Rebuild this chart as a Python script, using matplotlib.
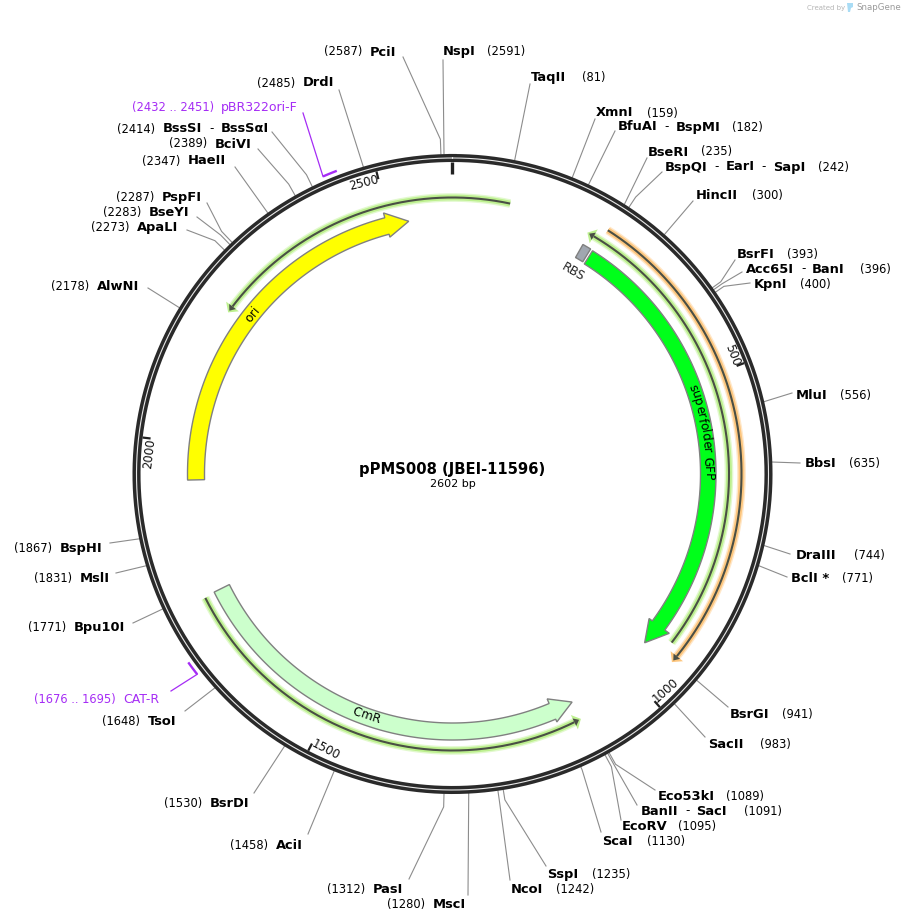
import numpy as np
import matplotlib
matplotlib.use("Agg")
import matplotlib.pyplot as plt
from matplotlib.patches import Polygon
from matplotlib.font_manager import FontProperties, findfont, get_font
from matplotlib.ft2font import LoadFlags

plt.rcParams['font.family'] = ['DejaVu Sans']

TOTAL_BP = 2602
TITLE = "pPMS008 (JBEI-11596)"
SUBTITLE = "2602 bp"

# restriction sites, clockwise from the origin
SITE_NAMES = ["TaqII", "XmnI", "BfuAI - BspMI", "BseRI", "BspQI - EarI - SapI", "HincII",
              "BsrFI", "Acc65I - BanI", "KpnI", "MluI", "BbsI", "DraIII", "BclI *",
              "BsrGI", "SacII", "Eco53kI", "BanII - SacI", "EcoRV", "ScaI", "SspI",
              "NcoI", "MscI", "PasI", "AciI", "BsrDI", "TsoI", "Bpu10I", "MslI",
              "BspHI", "AlwNI", "ApaLI", "BseYI", "PspFI", "HaeII", "BciVI",
              "BssSI - BssSαI", "DrdI", "PciI", "NspI"]
SITE_POS = [81, 159, 182, 235, 242, 300, 393, 396, 400, 556, 635, 744, 771, 941, 983,
            1089, 1091, 1095, 1130, 1235, 1242, 1280, 1312, 1458, 1530, 1648, 1771,
            1831, 1867, 2178, 2273, 2283, 2287, 2347, 2389, 2414, 2485, 2587, 2591]

# label layout, pixels: left of name, left of number, y, leader end, radial stub
LABEL_X = [531, 596, 618, 648, 665, 696, 737, 746, 754, 796, 805, 796, 791, 730, 708,
           658, 641, 622, 602, 547, 511, 433, 373, 276, 210, 148, 74, 80, 60, 97, 137,
           149, 162, 188, 215, 163, 303, 370, 443]
NUM_X = [582, 647, 732, 701, 818, 752, 787, 860, 800, 840, 849, 854, 842, 782, 760,
         726, 744, 678, 647, 592, 556, 387, 327, 230, 164, 102, 28, 34, 14, 51, 91,
         103, 116, 142, 169, 117, 257, 324, 487]
LABEL_Y = [78, 113, 127, 152, 167, 195, 254, 269, 284, 395, 463, 555, 578, 714, 744,
           796, 811, 826, 841, 874, 889, 904, 889, 845, 803, 721, 627, 578, 548, 286,
           227, 212, 197, 161, 144, 129, 83, 52, 52]
LEADER_X = [530, 595, 615, 647, 662, 693, 735, 742, 750, 792, 800, 790, 787, 728, 705,
            655, 637, 621, 601, 546, 510, 468, 409, 308, 254, 185, 133, 116, 110, 148,
            187, 197, 207, 235, 258, 272, 339, 403, 443]
LEADER_Y = [84, 119, 131, 158, 172, 201, 260, 272, 283, 393, 463, 554, 577, 707, 737,
            790, 805, 820, 832, 866, 880, 895, 879, 834, 793, 711, 623, 573, 543, 288,
            230, 217, 203, 167, 149, 132, 90, 57, 60]
LEADER_STUB = [0, 0, 0, 0, 12, 0, 10, 10, 10, 0, 0, 0, 0, 0, 0, 13, 13, 13, 3, 10, 10, 0,
               13, 0, 0, 0, 0, 0, 0, 0, 13, 13, 15, 0, 13, 13, 0, 15, 0]

# primers
PRIMER_NAMES = ["pBR322ori-F", "CAT-R"]
PRIMER_RANGES = ["(2432 .. 2451)", "(1676 .. 1695)"]
PRIMER_START = [2432, 1676]
PRIMER_END = [2451, 1695]
PRIMER_ATTACH = [2432, 1676]

# features: start, head base, tip
GFP_SPAN = [232, 913, 949]
CMR_SPAN = [1761, 1136, 1101]
ORI_SPAN = [1942, 2495, 2531]
RBS_SPAN = [214, 228]

# thin annotated bands: from, to, the arrow sits on the "to" end
GREEN_FROM = [922, 2689, 1759]
GREEN_TO = [211, 2210, 1101]
ORANGE_FROM = [235]
ORANGE_TO = [944]

TICK_POS = [500, 1000, 1500, 2000, 2500]

CX, CY = 452.5, 474.0
RING_MID, RING_OUT, RING_IN = 316.0, 320.0, 312.0
GREY = "#808080"
PURPLE = "#a52cf5"


def pt(bp, r):
    a = np.asarray(bp, dtype=float) / TOTAL_BP * 2 * np.pi
    return CX + r * np.sin(a), CY - r * np.cos(a)


def tangent_deg(bp):
    # rotation of text that reads along the circle at bp
    ang = bp / TOTAL_BP * 360.0
    return -ang if ang < 90 or ang > 270 else 180 - ang


def arc(a, b, r, n=200):
    return pt(np.linspace(a, b, n), r)


def draw_arrow(span, r0, r1, h0, h1, color):
    start, base, tip = span
    xo, yo = arc(start, base, r1)
    xi, yi = arc(base, start, r0)
    hox, hoy = pt(base, h1)
    hix, hiy = pt(base, h0)
    tx, ty = pt(tip, (r0 + r1) / 2)
    xs = np.r_[xo, hox, tx, hix, xi]
    ys = np.r_[yo, hoy, ty, hiy, yi]
    ax.add_patch(Polygon(np.c_[xs, ys], closed=True, fc=color, ec=GREY, lw=1.0, zorder=3))


def draw_band(a, b, r, color, halo):
    sign = 1 if b > a else -1
    hl = 11  # head length in bp
    stem_end = b - sign * hl
    x, y = arc(a, stem_end, r)
    ax.plot(x, y, color=halo, lw=6.2, solid_capstyle='butt', zorder=1.9)
    ax.plot(x, y, color=color, lw=4.2, solid_capstyle='butt', zorder=2)
    ax.plot(x, y, color="#4a4f45", lw=1.5, solid_capstyle='butt', zorder=2.5)
    for width, col, z, tipfrac in [(8.0, color, 2, 1.0), (4.2, "#4a4f45", 2.5, 0.72)]:
        bx1, by1 = pt(stem_end, r + width)
        bx2, by2 = pt(stem_end, r - width)
        tx, ty = pt(stem_end + sign * hl * tipfrac, r)
        ax.add_patch(Polygon([[bx1, by1], [tx, ty], [bx2, by2]], closed=True, fc=col, ec='none', zorder=z))


def arc_text(txt, bp, r, size, flip=False):
    # one glyph at a time so the string follows the circle
    font = get_font(findfont(FontProperties(family='DejaVu Sans')))
    font.set_size(size, 100)
    adv = [font.load_char(ord(c), flags=LoadFlags.NO_HINTING).linearHoriAdvance / 65536 for c in txt]
    total = sum(adv)
    for i, ch in enumerate(txt):
        off = sum(adv[:i]) + adv[i] / 2 - total / 2
        dbp = off / r / (2 * np.pi) * TOTAL_BP
        b = bp - dbp if flip else bp + dbp
        rb = r + 4.2 if flip else r - 4.2
        x, y = pt(b, rb)
        ang = b / TOTAL_BP * 360.0
        ax.text(x, y, ch, fontsize=size, rotation=(180 - ang) if flip else -ang, rotation_mode='anchor',
                ha='center', va='baseline', color='black', zorder=5)


fig = plt.figure(figsize=(9.04, 9.22), dpi=100)
ax = fig.add_axes([0, 0, 1, 1])
ax.set_xlim(0, 904)
ax.set_ylim(922, 0)
ax.axis('off')

# backbone
full = np.linspace(0, TOTAL_BP, 720)
x, y = pt(full, RING_MID)
ax.plot(x, y, color="#2a2a2a", lw=5.8, zorder=4)
ax.plot(x, y, color="#e8e8e8", lw=0.8, zorder=4.1)

for pos in TICK_POS:
    x, y = pt(np.array([pos, pos]), np.array([RING_IN, RING_IN - 8.0]))
    ax.plot(x, y, color="#222222", lw=1.6, solid_capstyle='butt', zorder=4)
    lx, ly = pt(pos, RING_IN - 8.5)
    ang = pos / TOTAL_BP * 360
    bottom = 90 < ang < 270
    ax.text(lx, ly, str(pos), fontsize=8.6, rotation=tangent_deg(pos), rotation_mode='anchor',
            ha='left' if bottom else 'right', va='center', color='#111111', zorder=5)
x, y = pt(np.array([0, 0]), np.array([RING_IN, RING_IN - 12.0]))
ax.plot(x, y, color="#222222", lw=2.4, solid_capstyle='butt', zorder=4)

# leaders + site labels
for i, name in enumerate(SITE_NAMES):
    x0, y0 = pt(SITE_POS[i], RING_OUT)
    x1, y1 = pt(SITE_POS[i], RING_OUT + LEADER_STUB[i])
    ax.plot([x0, x1, LEADER_X[i]], [y0, y1, LEADER_Y[i]], color="#8c8c8c", lw=0.8, zorder=1)
    cur = LABEL_X[i]
    parts = name.split(" - ")
    for j, part in enumerate(parts):
        t = ax.text(cur, LABEL_Y[i], part, fontsize=9.4, fontweight='bold', ha='left', va='center', zorder=5)
        if j < len(parts) - 1:
            w = t.get_window_extent(fig.canvas.get_renderer()).width
            ax.text(cur + w + 9, LABEL_Y[i], "-", fontsize=8.6, ha='center', va='center', zorder=5)
            cur += w + 18
    ax.text(NUM_X[i], LABEL_Y[i], "(%d)" % SITE_POS[i], fontsize=8.3, ha='left', va='center', zorder=5)

# primers
PRIMER_RANGE_X = [132, 34]
PRIMER_NAME_X = [221, 123]
PRIMER_Y = [107, 699]
PRIMER_LEAD = [(303, 113), (171, 691)]
for i in range(2):
    x, y = arc(PRIMER_START[i], PRIMER_END[i], RING_OUT + 4.5, 20)
    ax.plot(x, y, color=PURPLE, lw=1.7, solid_capstyle='butt', zorder=3)
    x0, y0 = pt(PRIMER_ATTACH[i], RING_OUT + 4.5)
    ax.plot([x0, PRIMER_LEAD[i][0]], [y0, PRIMER_LEAD[i][1]], color=PURPLE, lw=0.9, zorder=3)
    ax.text(PRIMER_RANGE_X[i], PRIMER_Y[i], PRIMER_RANGES[i], fontsize=8.3, color=PURPLE, ha='left', va='center')
    ax.text(PRIMER_NAME_X[i], PRIMER_Y[i], PRIMER_NAMES[i], fontsize=9.0, color=PURPLE, ha='left', va='center')

# bands outside the features
for a, b in zip(GREEN_FROM, GREEN_TO):
    draw_band(a, b, 276.5, "#bdf08f", "#e2f9ce")
for a, b in zip(ORANGE_FROM, ORANGE_TO):
    draw_band(a, b, 289, "#fdc67e", "#ffe7c8")

# features
draw_arrow(GFP_SPAN, 248, 263.5, 244, 269, "#00ff1a")
draw_arrow(CMR_SPAN, 249, 266, 244, 269, "#ccffcc")
draw_arrow(ORI_SPAN, 248, 265, 245, 270, "#ffff00")
xo, yo = arc(RBS_SPAN[0], RBS_SPAN[1], 264, 10)
xi, yi = arc(RBS_SPAN[1], RBS_SPAN[0], 249, 10)
ax.add_patch(Polygon(np.c_[np.r_[xo, xi], np.r_[yo, yi]], closed=True, fc="#a0a7b0", ec=GREY, lw=1.0, zorder=3))

arc_text("superfolder GFP", 582, 256, 8.7)
arc_text("ori", 2230, 257, 8.7)
arc_text("CmR", 1443, 256, 8.7, flip=True)
ax.text(573, 272, "RBS", fontsize=8.7, rotation=-30, rotation_mode='anchor', ha='center', va='center', color='#222222')

ax.text(452.5, 469, TITLE, fontsize=10.6, fontweight='bold', ha='center', va='center')
ax.text(452.5, 484, SUBTITLE, fontsize=8.0, ha='center', va='center')

# SnapGene watermark
ax.text(807, 8, "Created by", fontsize=5, color="#b5b5b5", ha='left', va='center')
ax.add_patch(Polygon([[847, 3], [853, 3], [853, 7], [851, 8], [850, 12], [848, 12]], closed=True, fc="#a9dcf5", ec='none'))
ax.text(856, 8, "SnapGene", fontsize=6.2, color="#9a9a9a", ha='left', va='center')

fig.savefig("out.png", dpi=100)
